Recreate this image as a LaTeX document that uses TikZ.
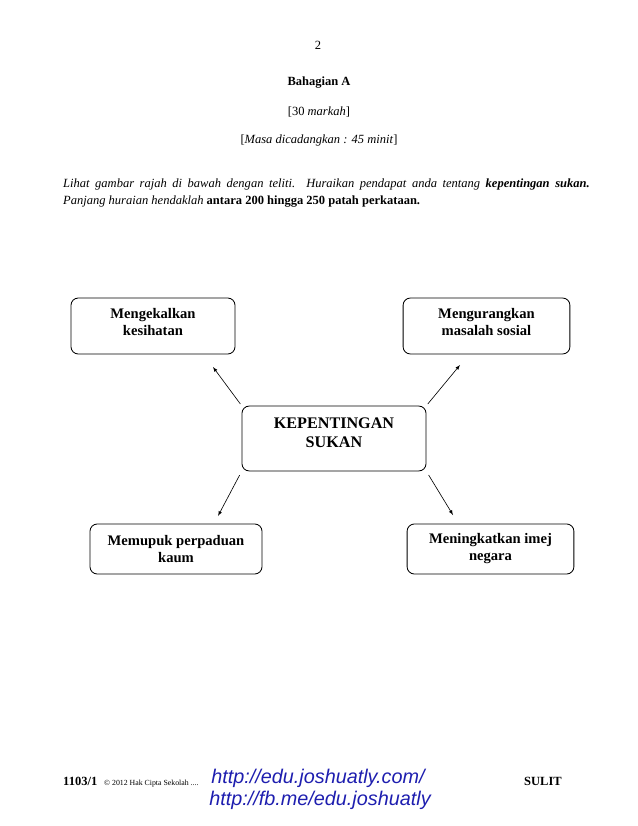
\documentclass[tikz,border=0pt]{standalone}
\usepackage{fontspec}
\setmainfont{Liberation Serif}
\newfontfamily\linkfont{Liberation Sans}
\definecolor{inkblue}{RGB}{30,30,175}

\begin{document}
\begin{tikzpicture}[x=0.9592pt,y=-0.9592pt,
  font=\fontsize{12}{14}\selectfont,
  box/.style={draw,rounded corners=7pt,align=center,line width=0.8pt,inner sep=2pt,
    font=\fontsize{14}{17}\selectfont\bfseries},
  arr/.style={-latex,line width=0.6pt},
  link/.style={text=inkblue,font=\fontsize{19}{21}\selectfont\linkfont\itshape,inner sep=0pt}]
\useasboundingbox (0,0) rectangle (638,826);
\node (page) at (318,45) {2};
\node[font=\fontsize{12}{14}\selectfont\bfseries] (bahagian) at (319,83) {Bahagian A};
\node (markah) at (319,112) {[30 \textit{markah}]};
\node (masa) at (319,140) {[\textit{Masa dicadangkan : 45 minit}]};
\node[anchor=north west,inner sep=0pt,text width=505pt,align=justify,font=\fontsize{12}{16.3}\selectfont] (soalan) at (63,179)
  {\noindent\textit{Lihat gambar rajah di bawah dengan teliti.\ \ Huraikan pendapat anda tentang} \textbf{\textit{kepentingan sukan.}}\linebreak
  \textit{Panjang huraian hendaklah} \textbf{antara 200 hingga 250 patah perkataan.}};
\node[box,minimum width=157.3pt,minimum height=53.7pt,text depth=7.7pt] (kesihatan) at (153,326) {Mengekalkan\\kesihatan};
\node[box,minimum width=160pt,minimum height=53.7pt,text depth=7.7pt] (sosial) at (486.5,326) {Mengurangkan\\masalah sosial};
\node[box,minimum width=176.5pt,minimum height=62.3pt,text depth=11.5pt,font=\fontsize{15.5}{18.5}\selectfont\bfseries] (sukan) at (334,438.5) {KEPENTINGAN\\SUKAN};
\node[box,minimum width=165pt,minimum height=48pt,font=\fontsize{14}{16.3}\selectfont\bfseries] (kaum) at (176,549) {Memupuk perpaduan\\kaum};
\node[box,minimum width=160pt,minimum height=48pt,font=\fontsize{14}{16.3}\selectfont\bfseries] (negara) at (490.5,549) {Meningkatkan imej\\negara};
\coordinate (hujungA) at (213,367);
\coordinate (hujungB) at (460,365);
\coordinate (hujungC) at (218,516);
\coordinate (hujungD) at (453,515);
\draw[arr,shorten <=2pt] (sukan.north west) -- (hujungA);
\draw[arr,shorten <=2pt] (sukan.north east) -- (hujungB);
\draw[arr,shorten <=4pt] (sukan.south west) -- (hujungC);
\draw[arr,shorten <=4pt] (sukan.south east) -- (hujungD);
\node[anchor=base west,inner sep=0pt,font=\fontsize{12}{14}\selectfont\bfseries] (kod) at (63,785) {1103/1};
\node[anchor=base west,inner sep=0pt,font=\fontsize{7.5}{9}\selectfont] (hakcipta) at (104,785) {© 2012 Hak Cipta Sekolah ....};
\node[anchor=base east,inner sep=0pt,font=\fontsize{12}{14}\selectfont\bfseries] (sulit) at (562,785) {SULIT};
\node[link] (laman) at (318,778) {http://edu.joshuatly.com/};
\node[link] (fb) at (320,800) {http://fb.me/edu.joshuatly};
\end{tikzpicture}
\end{document}
